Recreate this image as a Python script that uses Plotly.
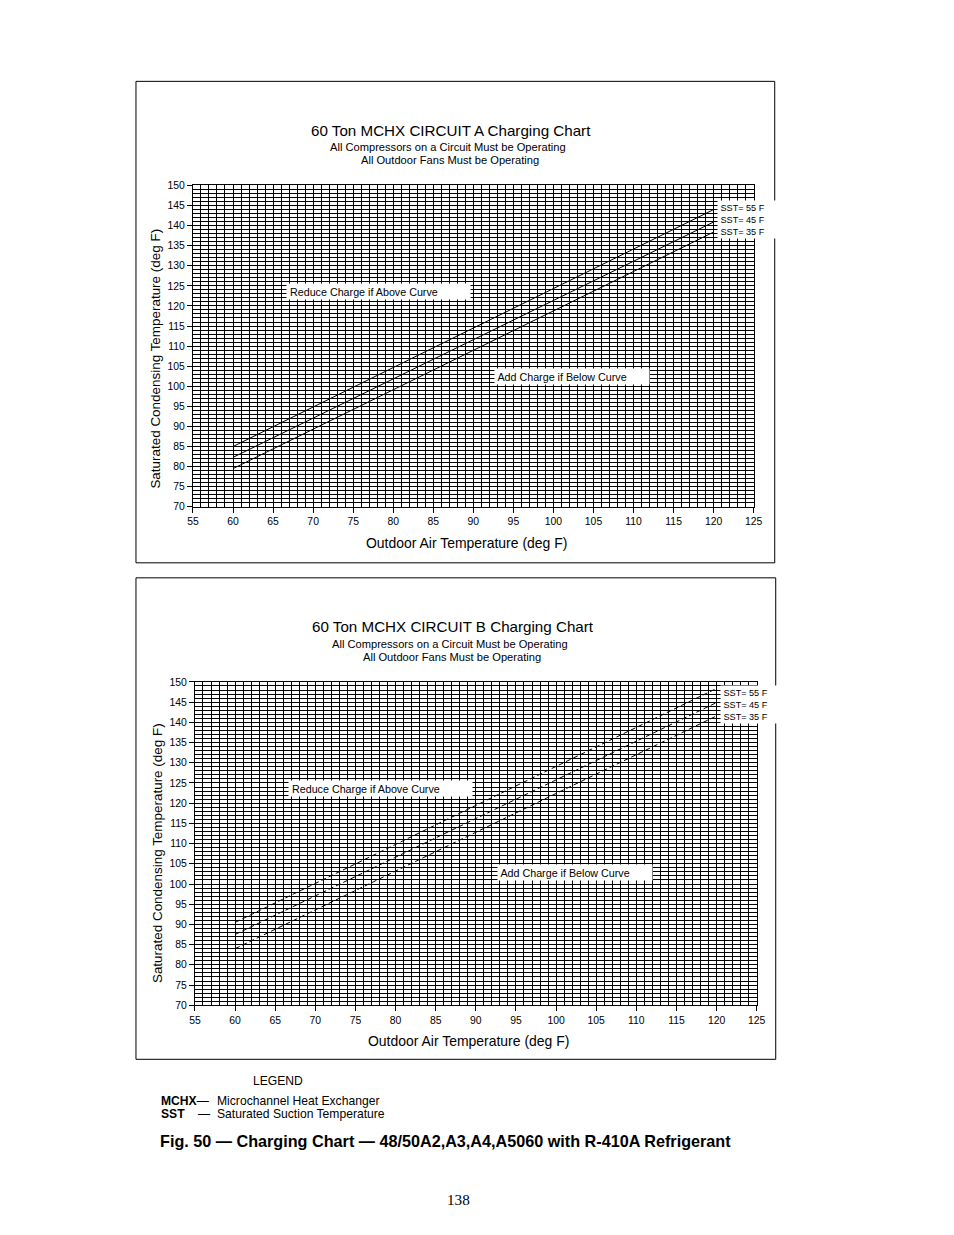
import plotly.graph_objects as go

# ---------------- data ----------------
oat_a = [60, 90, 120]
a_sst55 = [85.0, 114.5, 144.0]
a_sst45 = [82.3, 111.6, 140.9]
a_sst35 = [79.5, 109.0, 138.4]

oat_b = [60, 90, 120]
b_sst55 = [90.5, 119.5, 148.4]
b_sst45 = [87.5, 116.2, 144.9]
b_sst35 = [84.0, 112.8, 141.6]

x_ticks = list(range(55, 126, 5))
y_ticks = list(range(70, 151, 5))
sst_labels = ["SST= 55 F", "SST= 45 F", "SST= 35 F"]

# page body keeps its default 8px margin; figure fills the rest of the window
MARGIN = 8
W, H = 954 - 2 * MARGIN, 1235 - 2 * MARGIN
# observed mapping from page pixels to the photographed picture
SX, AX = 0.9844, 6.1
SY, AY = 0.990, 5.8
FONT = "Liberation Sans, Arial, sans-serif"
FS = 1.012  # font compensation for the photo scaling


def px(x):
    return ((x - AX) / SX - MARGIN) / W


def py(y):
    return 1 - ((y - AY) / SY - MARGIN) / H


fig = go.Figure()

for xs, ys in [(oat_a, a_sst55), (oat_a, a_sst45), (oat_a, a_sst35)]:
    fig.add_trace(go.Scatter(x=xs, y=ys, mode="lines", xaxis="x", yaxis="y",
                             line=dict(color="black", width=1), showlegend=False,
                             hoverinfo="skip"))
for xs, ys in [(oat_b, b_sst55), (oat_b, b_sst45), (oat_b, b_sst35)]:
    fig.add_trace(go.Scatter(x=xs, y=ys, mode="lines", xaxis="x2", yaxis="y2",
                             line=dict(color="black", width=1, dash="5px,3px"),
                             showlegend=False, hoverinfo="skip"))


def xaxis(domain, anchor):
    return dict(domain=domain, anchor=anchor, range=[55, 125], tickvals=x_ticks,
                showgrid=True, gridcolor="black", gridwidth=1,
                minor=dict(dtick=1, showgrid=True, gridcolor="black", gridwidth=1),
                showline=True, linecolor="black", linewidth=1, mirror=True,
                ticks="outside", ticklen=5, tickcolor="black",
                tickfont=dict(family=FONT, size=10.3 * FS, color="black"),
                zeroline=False, fixedrange=True)


def yaxis(domain, anchor):
    return dict(domain=domain, anchor=anchor, range=[70, 150], tickvals=y_ticks,
                showgrid=True, gridcolor="black", gridwidth=1,
                minor=dict(dtick=1, showgrid=True, gridcolor="black", gridwidth=1),
                showline=True, linecolor="black", linewidth=1, mirror=True,
                ticks="outside", ticklen=5, tickcolor="black",
                tickfont=dict(family=FONT, size=10.3 * FS, color="black"),
                zeroline=False, fixedrange=True)


# plot areas in picture pixels
A = dict(x0=193, x1=754, y0=186, y1=507)
B = dict(x0=195, x1=757, y0=682, y1=1005)

fig.update_layout(
    width=W, height=H, autosize=False,
    margin=dict(l=0, r=0, t=0, b=0),
    paper_bgcolor="white", plot_bgcolor="white",
    xaxis=xaxis([px(A["x0"]), px(A["x1"])], "y"),
    yaxis=yaxis([py(A["y1"]), py(A["y0"])], "x"),
    xaxis2=xaxis([px(B["x0"]), px(B["x1"])], "y2"),
    yaxis2=yaxis([py(B["y1"]), py(B["y0"])], "x2"),
)

shapes = []
for (x0, y0, x1, y1) in [(136, 82, 775, 563), (136, 578, 776, 1059)]:
    shapes.append(dict(type="rect", xref="paper", yref="paper",
                       x0=px(x0), x1=px(x1), y0=py(y1), y1=py(y0),
                       line=dict(color="black", width=1), fillcolor="rgba(0,0,0,0)"))
fig.update_layout(shapes=shapes)

ann = []


def text(x, y, s, size, xanchor="center", bold=False, family=FONT, angle=0):
    ann.append(dict(x=px(x), y=py(y), xref="paper", yref="paper", text=s,
                    showarrow=False, xanchor=xanchor, yanchor="middle",
                    textangle=angle,
                    font=dict(family=family, size=size * FS, color="black",
                              weight="bold" if bold else "normal")))


def boxed(x, y, w, h, s, size):
    ann.append(dict(x=px(x), y=py(y), xref="paper", yref="paper", text=s,
                    showarrow=False, xanchor="left", yanchor="top",
                    width=w / SX, height=h / SY, align="left", valign="middle",
                    bgcolor="white", borderpad=0,
                    font=dict(family=FONT, size=size * FS, color="black")))


for top, label, ycenter, xc, ylab_x, xlab_y, red, add, sstbox in [
    (131, "A", 359, 451, 156, 543, (286, 283), (494, 368), (717, 201)),
    (627, "B", 853, 453, 157, 1041, (288, 780), (497, 864), (720, 685)),
]:
    text(xc, top, f"60 Ton MCHX CIRCUIT {label} Charging Chart", 15)
    text(xc - 3, top + 17, "All Compressors on a Circuit Must be Operating", 11)
    text(xc - 1, top + 30, "All Outdoor Fans Must be Operating", 11)
    text(ylab_x, ycenter, "Saturated Condensing Temperature (deg F)", 13.3, angle=-90)
    text(xc + 16, xlab_y, "Outdoor Air Temperature (deg F)", 13.8)
    boxed(red[0], red[1], 180, 15, " Reduce Charge if Above Curve", 10.6)
    boxed(add[0], add[1], 152, 15, " Add Charge if Below Curve", 10.6)
    boxed(sstbox[0], sstbox[1], 58, 37, "<br>".join(" " + s for s in sst_labels), 9)

text(278, 1081, "LEGEND", 12)
text(159, 1101, "<b>MCHX</b>—", 12, xanchor="left")
text(215, 1101, "Microchannel Heat Exchanger", 12, xanchor="left")
text(159, 1114, "<b>SST</b>", 12, xanchor="left")
text(196, 1114, "—", 12, xanchor="left")
text(215, 1114, "Saturated Suction Temperature", 12, xanchor="left")
text(446, 1141, "Fig. 50 — Charging Chart — 48/50A2,A3,A4,A5060 with R-410A Refrigerant",
     16, bold=True)
text(459, 1199, "138", 15, family="Liberation Serif, Times New Roman, serif")

fig.update_layout(annotations=ann)

fig.write_html("out.html", config=dict(staticPlot=True))
